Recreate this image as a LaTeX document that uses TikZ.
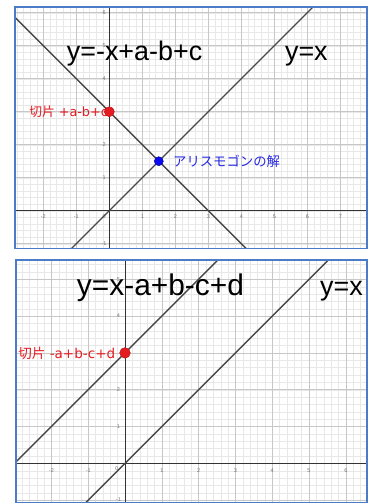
\documentclass[tikz,border=0pt]{standalone}
\usepackage{fontspec}
\setmainfont{Liberation Sans}
\newfontfamily\cjk{Noto Sans CJK JP}
\newfontfamily\lbl{DejaVu Sans}
\definecolor{ggred}{RGB}{228,28,34}
\definecolor{ggblue}{RGB}{40,40,225}
\definecolor{dotblue}{RGB}{10,10,240}
\definecolor{frameblue}{RGB}{74,124,200}
\tikzset{
  minorgrid/.style={draw=black!9, line width=0.3bp},
  majorgrid/.style={draw=black!22, line width=0.5bp},
  axisline/.style={draw=black!80, line width=0.8bp},
  graphline/.style={draw=black!72, line width=1.4bp},
  panelframe/.style={draw=frameblue, line width=1.6bp},
  ticklabel/.style={font=\fontsize{5.5}{6}\selectfont, text=black!55, inner sep=0pt},
  reddot/.style={circle, fill=ggred, draw=ggred!80!black, line width=0.5bp, inner sep=0pt, minimum size=10bp},
  bluedot/.style={circle, fill=dotblue, draw=dotblue!70!black, line width=0.5bp, inner sep=0pt, minimum size=9bp}
}
\begin{document}
\begin{tikzpicture}[x=1bp, y=1bp]
\useasboundingbox (0,0) rectangle (369,-504);

% 上图: y=-x+a-b+c 与 y=x
\begin{scope}[shift={(109.3bp,-210.7bp)}, x=33bp, y=33bp]
  \begin{scope}
    \clip (-2.86,-1.14) rectangle (7.81,6.17);
    % 网格
    \draw[minorgrid, step=0.2] (-3,-2) grid (8,7);
    \draw[majorgrid, step=1] (-3,-2) grid (8,7);
    % 坐标轴
    \draw[axisline] (-3,0) -- (8,0);
    \draw[axisline] (0,-2) -- (0,7);
    % 刻度
    \node[ticklabel] (ax1m2) at (-2,-0.18) {-2};
    \node[ticklabel] (ax1m1) at (-1,-0.18) {-1};
    \node[ticklabel] (ax10) at (-0.16,-0.18) {0};
    \node[ticklabel] (ax11) at (1,-0.18) {1};
    \node[ticklabel] (ax12) at (2,-0.18) {2};
    \node[ticklabel] (ax13) at (3,-0.18) {3};
    \node[ticklabel] (ax14) at (4,-0.18) {4};
    \node[ticklabel] (ax15) at (5,-0.18) {5};
    \node[ticklabel] (ax16) at (6,-0.18) {6};
    \node[ticklabel] (ax17) at (7,-0.18) {7};
    \node[ticklabel] (ay1m1) at (-0.16,-1) {-1};
    \node[ticklabel] (ay11) at (-0.16,1) {1};
    \node[ticklabel] (ay12) at (-0.16,2) {2};
    \node[ticklabel] (ay14) at (-0.16,4) {4};
    \node[ticklabel] (ay15) at (-0.16,5) {5};
    \node[ticklabel] (ay16) at (-0.16,6) {6};
    % 直线
    \draw[graphline] (-2,-2) -- (7,7);
    \draw[graphline] (-3,6) -- (5,-2);
  \end{scope}
  \draw[panelframe] (-2.86,-1.14) rectangle (7.81,6.17);

  % 文字
  \node[anchor=base west, inner sep=0pt, font=\fontsize{27}{30}\selectfont] (eq1) at (-1.29,4.54) {y=-x+a-b+c};
  \node[anchor=base west, inner sep=0pt, font=\fontsize{27}{30}\selectfont] (id1) at (5.32,4.54) {y=x};
  \node[anchor=east, inner sep=0pt, text=ggred, font=\lbl\fontsize{12.8}{14}\selectfont] (cut1) at (-0.04,3) {{\cjk 切片} +a-b+c};
  \node[anchor=west, inner sep=0pt, text=ggblue, font=\cjk\fontsize{13.4}{15}\selectfont] (sol) at (1.93,1.5) {アリスモゴンの解};

  % 点
  \node[reddot] (p1) at (0,3) {};
  \node[bluedot] (q1) at (1.5,1.5) {};
\end{scope}

% 下图: y=x-a+b-c+d 与 y=x
\begin{scope}[shift={(125bp,-463.3bp)}, x=36.8bp, y=36.8bp]
  \begin{scope}
    \clip (-2.97,-1.07) rectangle (6.58,5.52);
    % 网格
    \draw[minorgrid, step=0.2] (-4,-2) grid (7,6);
    \draw[majorgrid, step=1] (-4,-2) grid (7,6);
    % 坐标轴
    \draw[axisline] (-4,0) -- (7,0);
    \draw[axisline] (0,-2) -- (0,6);
    % 刻度
    \node[ticklabel] (bx2m3) at (-3,-0.19) {-3};
    \node[ticklabel] (bx2m2) at (-2,-0.19) {-2};
    \node[ticklabel] (bx2m1) at (-1,-0.19) {-1};
    \node[ticklabel] (bx20) at (-0.23,-0.15) {0};
    \node[ticklabel] (bx21) at (1,-0.19) {1};
    \node[ticklabel] (bx22) at (2,-0.19) {2};
    \node[ticklabel] (bx23) at (3,-0.19) {3};
    \node[ticklabel] (bx24) at (4,-0.19) {4};
    \node[ticklabel] (bx25) at (5,-0.19) {5};
    \node[ticklabel] (bx26) at (6,-0.19) {6};
    \node[ticklabel] (by2m1) at (-0.18,-1) {-1};
    \node[ticklabel] (by21) at (-0.18,1) {1};
    \node[ticklabel] (by22) at (-0.18,2) {2};
    \node[ticklabel] (by24) at (-0.18,4) {4};
    \node[ticklabel] (by25) at (-0.18,5) {5};
    % 直线
    \draw[graphline] (-5,-2) -- (4,7);
    \draw[graphline] (-2,-2) -- (7,7);
  \end{scope}
  \draw[panelframe] (-2.97,-1.07) rectangle (6.58,5.52);

  % 文字
  \node[anchor=base west, inner sep=0pt, font=\fontsize{30}{33}\selectfont] (eq2) at (-1.31,4.57) {y=x-a+b-c+d};
  \node[anchor=base west, inner sep=0pt, font=\fontsize{27}{30}\selectfont] (id2) at (5.30,4.57) {y=x};
  \node[anchor=east, inner sep=0pt, text=ggred, font=\lbl\fontsize{13.6}{15}\selectfont] (cut2) at (-0.26,3) {{\cjk 切片} -a+b-c+d};

  % 点
  \node[reddot, minimum size=10.6bp] (p2) at (0,3) {};
\end{scope}
\end{tikzpicture}
\end{document}
